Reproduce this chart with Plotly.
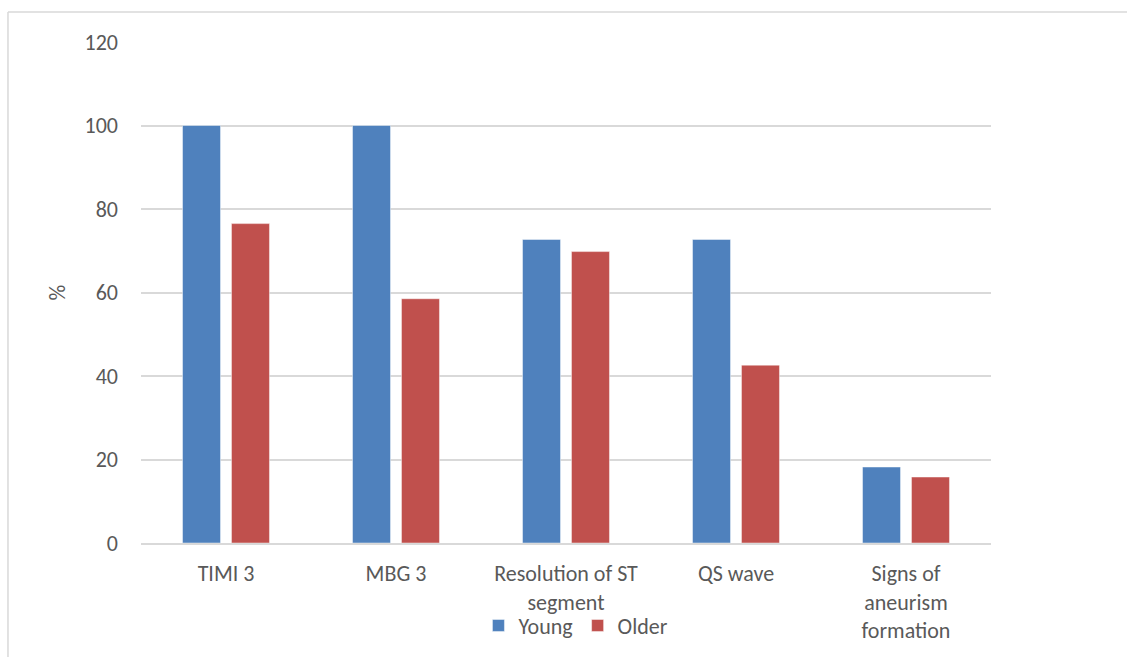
import plotly.graph_objects as go

categories = ["TIMI 3", "MBG 3", "Resolution of ST<br>segment", "QS wave",
              "Signs of<br>aneurism<br>formation"]
young = [100, 100, 72.7, 72.7, 18.2]
older = [76.5, 58.5, 69.8, 42.6, 15.8]
y_ticks = [0, 20, 40, 60, 80, 100, 120]

FONT = "Carlito, Lato, sans-serif"
TXT = "#595959"
GRID = "#D9D9D9"
FS = 22

fig = go.Figure()
fig.add_trace(go.Bar(name="Young", x=categories, y=young,
                     marker=dict(color="#4F81BD",
                                 line=dict(color="rgba(255,255,255,0.45)", width=1))))
fig.add_trace(go.Bar(name="Older", x=categories, y=older,
                     marker=dict(color="#C0504D",
                                 line=dict(color="rgba(255,255,255,0.45)", width=1))))

fig.update_layout(
    width=1127, height=657,
    margin=dict(l=141, r=136, t=42, b=113.5, autoexpand=False),
    paper_bgcolor="white", plot_bgcolor="white",
    barmode="group", bargap=0.424, bargroupgap=0.224,
    font=dict(family=FONT, size=FS, color=TXT),
    showlegend=True,
    legend=dict(orientation="h", x=0.397, xanchor="left", y=-0.165, yanchor="middle",
                font=dict(family=FONT, size=FS, color=TXT),
                itemwidth=30, tracegroupgap=0, bgcolor="rgba(0,0,0,0)"),
    xaxis=dict(showgrid=False, showline=True, linecolor=GRID, linewidth=1.5,
               ticks="", tickfont=dict(family=FONT, size=FS, color=TXT),
               ticklabelstandoff=10, fixedrange=True),
    yaxis=dict(range=[0, 120], tickvals=y_ticks, showgrid=True, gridcolor=GRID,
               gridwidth=1.5, zeroline=False, showline=False, ticks="",
               tickfont=dict(family=FONT, size=FS, color=TXT),
               ticklabelstandoff=22,
               title=dict(text="%", font=dict(family=FONT, size=FS, color=TXT),
                          standoff=12),
               fixedrange=True),
    shapes=[
        # chart frame: left and top edges visible, the rest runs off the page
        dict(type="line", xref="paper", yref="paper", x0=-0.1565, x1=-0.1565,
             y0=1.0598, y1=-0.35, line=dict(color=GRID, width=1.5)),
        dict(type="line", xref="paper", yref="paper", x0=-0.1565, x1=1.25,
             y0=1.0598, y1=1.0598, line=dict(color=GRID, width=1.5)),
    ],
)

fig.write_html("out.html")
